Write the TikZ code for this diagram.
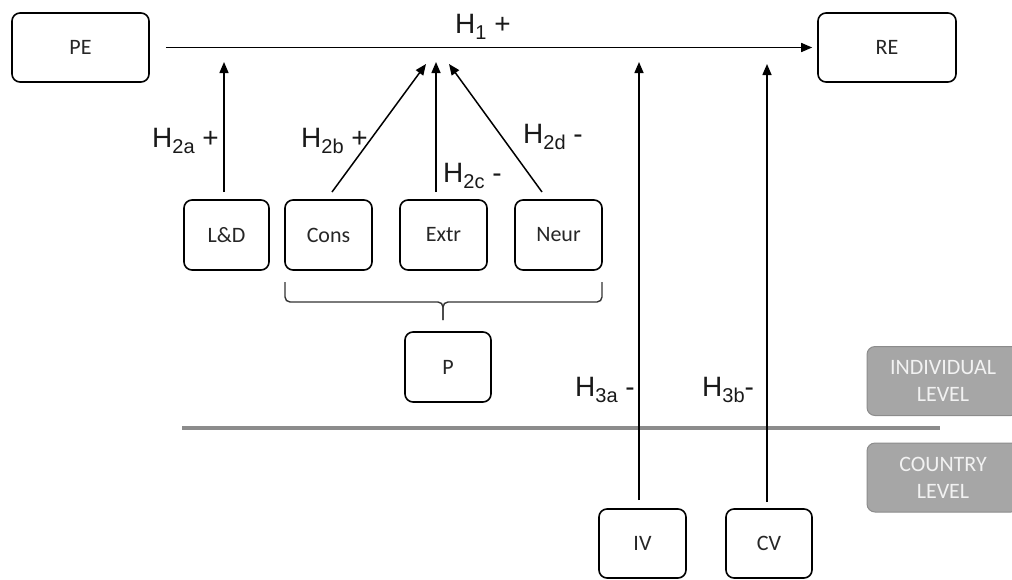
\documentclass[tikz,border=0pt]{standalone}
\usepackage{fontspec}
\setmainfont{Carlito}
\newfontfamily\arialfont{Liberation Sans}
\usetikzlibrary{arrows.meta}
\definecolor{lvlfill}{RGB}{166,166,166}
\definecolor{lvldraw}{RGB}{140,140,140}
\definecolor{lvltext}{RGB}{242,242,242}
\definecolor{sepline}{RGB}{140,140,140}
\newcommand{\hsub}[1]{\raisebox{-6pt}{\fontsize{20}{20}\selectfont #1}}
\begin{document}
\begin{tikzpicture}[x=1pt,y=-1pt,
  box/.style={draw, line width=1.6pt, rounded corners=8pt, inner sep=0pt,
    font=\fontsize{22}{24}\selectfont, text=black!85},
  arr/.style={line width=1.5pt, -{Triangle[length=11pt,width=9pt]}},
  hyp/.style={font=\arialfont\fontsize{28}{30}\selectfont, anchor=base west, inner sep=0pt, text=black!90},
  lvl/.style={fill=lvlfill, draw=lvldraw, line width=1pt, rounded corners=8pt, align=center,
    text=lvltext, inner sep=0pt, font=\fontsize{22}{27}\selectfont},
  bracestyle/.style={line width=1.4pt, rounded corners=5pt, draw=black!80}]
\useasboundingbox (0,0) rectangle (1012,579);
\clip (0,0) rectangle (1012,579);
% boxes
\node[box, minimum width=137pt, minimum height=69pt] (PE) at (80.5,47.5) {PE};
\node[box, minimum width=138pt, minimum height=69pt] (RE) at (887,47.5) {RE};
\node[box, minimum width=85pt, minimum height=70pt] (LD) at (226.5,235) {L\&D};
\node[box, minimum width=87pt, minimum height=70pt] (Cons) at (328.5,235) {Cons};
\node[box, minimum width=87pt, minimum height=70pt] (Extr) at (443.5,235) {Extr};
\node[box, minimum width=87pt, minimum height=70pt] (Neur) at (558.5,235) {Neur};
\node[box, minimum width=86pt, minimum height=70pt] (P) at (448,367) {P};
\node[box, minimum width=87pt, minimum height=69pt] (IV) at (642.5,543.5) {IV};
\node[box, minimum width=86pt, minimum height=69pt] (CV) at (769,543.5) {CV};
% level boxes
\node[lvl, minimum width=152pt, minimum height=69pt] (ind) at (943,381) {INDIVIDUAL\\LEVEL};
\node[lvl, minimum width=152pt, minimum height=69pt] (cou) at (943,477.5) {COUNTRY\\LEVEL};
% separator
\coordinate (sepA) at (182,428);
\coordinate (sepB) at (940,428);
\draw[sepline, line width=3.5pt] (sepA) -- (sepB);
% brace
\coordinate (brL) at (285,282);
\coordinate (brR) at (602,282);
\coordinate (brT) at (443,320);
\draw[bracestyle] (brL) -- (285,302) -- (443,302) -- (brT);
\draw[bracestyle] (brR) -- (602,302) -- (443,302) -- (brT);
% arrow targets
\coordinate (tLD) at (224,62);
\coordinate (tCons) at (426,64);
\coordinate (tExtr) at (436,62);
\coordinate (tNeur) at (449,64);
\coordinate (tIV) at (639,62);
\coordinate (tCV) at (767,64);
\coordinate (sLD) at (224,192);
\coordinate (sCons) at (332,192);
\coordinate (sExtr) at (436,192);
\coordinate (sNeur) at (542,192);
\coordinate (sIV) at (639,500);
\coordinate (sCV) at (767,502);
% arrows
\draw[arr] ([xshift=16pt]PE.east) -- ([xshift=-5pt]RE.west);
\draw[arr] (sLD) -- (tLD);
\draw[arr] (sCons) -- (tCons);
\draw[arr] (sExtr) -- (tExtr);
\draw[arr] (sNeur) -- (tNeur);
\draw[arr] (sIV) -- (tIV);
\draw[arr] (sCV) -- (tCV);
% labels
\node[hyp] (h1) at (455,33) {H\hsub{1} +};
\node[hyp] (h2a) at (152,147) {H\hsub{2a} +};
\node[hyp] (h2b) at (301,147) {H\hsub{2b} +};
\node[hyp] (h2c) at (443,182) {H\hsub{2c} -};
\node[hyp] (h2d) at (523,143) {H\hsub{2d} -};
\node[hyp] (h3a) at (575,396) {H\hsub{3a} -};
\node[hyp] (h3b) at (702,396) {H\hsub{3b}-};
\end{tikzpicture}
\end{document}
